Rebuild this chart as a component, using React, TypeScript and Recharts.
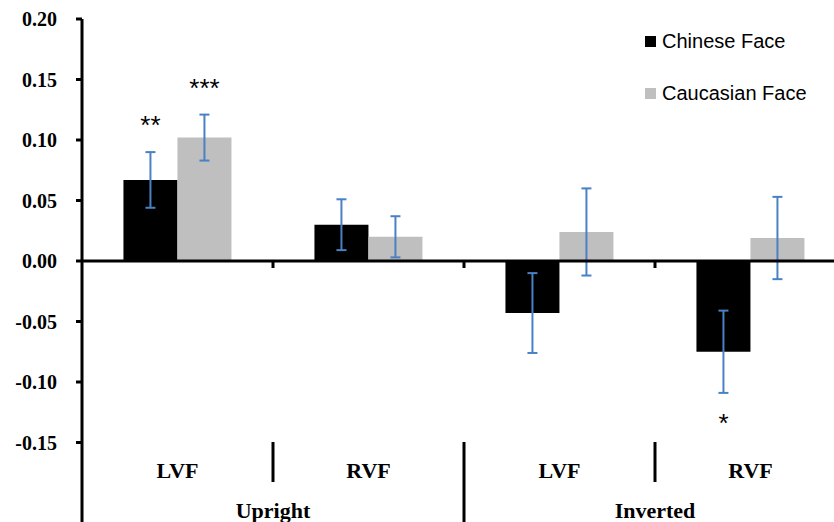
import React from "react";
import {
  BarChart,
  Bar,
  XAxis,
  YAxis,
  ErrorBar,
  ReferenceLine,
  LabelList,
} from "recharts";

// データ
const fields = ["LVF", "RVF", "LVF", "RVF"];
const orientations = ["Upright", "Inverted"];
const chinese = [0.067, 0.03, -0.043, -0.075];
const chineseErr = [0.023, 0.021, 0.033, 0.034];
const caucasian = [0.102, 0.02, 0.024, 0.019];
const caucasianErr = [0.019, 0.017, 0.036, 0.034];
const chineseStars = ["**", "", "", "*"];
const caucasianStars = ["***", "", "", ""];
const yTicks = [-0.15, -0.1, -0.05, 0, 0.05, 0.1, 0.15, 0.2];

const COLORS = {
  chinese: "#000000",
  caucasian: "#bfbfbf",
  error: "#4a80c4",
};

// レイアウト
const CHART_W = 870;
const CHART_H = 523;
const MARGIN = { top: 19, right: 24, left: 10, bottom: 0 };
const Y_AXIS_W = 72;
const Y_MIN = -0.2157;
const Y_MAX = 0.2;
const PLOT_H = CHART_H - MARGIN.top - MARGIN.bottom - 1;
const PLOT_W = CHART_W - MARGIN.left - MARGIN.right - Y_AXIS_W;
const BAND = PLOT_W / fields.length;
const ZERO_Y = MARGIN.top + (Y_MAX / (Y_MAX - Y_MIN)) * PLOT_H;

const SERIF = '"Liberation Serif", "Times New Roman", serif';
const SANS = '"Liberation Sans", Arial, sans-serif';

const data = fields.map((f, i) => ({
  key: `${orientations[Math.floor(i / 2)]} ${f}`,
  chinese: chinese[i],
  chineseErr: chineseErr[i],
  caucasian: caucasian[i],
  caucasianErr: caucasianErr[i],
}));

const YTick = ({ x, y, payload }: any) => (
  <text
    x={x}
    y={y}
    dy={7}
    textAnchor="end"
    fontFamily={SERIF}
    fontWeight="bold"
    fontSize={20}
    fill="#000"
  >
    {Number(payload.value).toFixed(2)}
  </text>
);

const FieldTick = ({ x, index }: any) => {
  const right = x + BAND / 2;
  const last = index === fields.length - 1;
  return (
    <g>
      <text
        x={x}
        y={478}
        textAnchor="middle"
        fontFamily={SERIF}
        fontWeight="bold"
        fontSize={22}
        fill="#000"
      >
        {fields[index]}
      </text>
      {!last && (
        <line
          x1={right}
          x2={right}
          y1={442}
          y2={index % 2 === 1 ? 524 : 482}
          stroke="#000"
          strokeWidth={3}
        />
      )}
      {!last && (
        <line x1={right} x2={right} y1={ZERO_Y} y2={ZERO_Y + 7} stroke="#000" strokeWidth={3} />
      )}
      {index % 2 === 0 && (
        <text
          x={right}
          y={518}
          textAnchor="middle"
          fontFamily={SERIF}
          fontWeight="bold"
          fontSize={22}
          fill="#000"
        >
          {orientations[index / 2]}
        </text>
      )}
    </g>
  );
};

// 有意差の星印
const starLabel = (values: number[], errs: number[], stars: string[]) => (props: any) => {
  const { x, y, width, height, index } = props;
  const s = stars[index];
  if (!s) return null;
  const v = values[index];
  const h = Number(height);
  const ppu = Math.abs(h) / Math.abs(v);
  const end = v > 0 ? Math.min(y, y + h) : Math.max(y, y + h);
  const errEnd = v > 0 ? end - errs[index] * ppu : end + errs[index] * ppu;
  return (
    <text
      x={x + width / 2}
      y={v > 0 ? errEnd - 18 : errEnd + 39}
      textAnchor="middle"
      fontFamily={SANS}
      fontSize={26}
      fill="#000"
    >
      {s}
    </text>
  );
};

const legendItems = [
  { name: "Chinese Face", color: COLORS.chinese },
  { name: "Caucasian Face", color: COLORS.caucasian },
];

export default function App() {
  return (
    <div
      style={{
        position: "fixed",
        left: 0,
        top: 0,
        width: 834,
        height: 522,
        overflow: "hidden",
        background: "#fff",
      }}
    >
      <BarChart
        width={CHART_W}
        height={CHART_H}
        data={data}
        margin={MARGIN}
        barCategoryGap="21.7%"
        barGap={0}
      >
        <XAxis
          dataKey="key"
          height={1}
          axisLine={false}
          tickLine={false}
          interval={0}
          tick={(p: any) => <FieldTick {...p} />}
        />
        <YAxis
          width={Y_AXIS_W}
          domain={[Y_MIN, Y_MAX]}
          allowDataOverflow
          ticks={yTicks}
          interval={0}
          axisLine={{ stroke: "#000", strokeWidth: 3 }}
          tickLine={{ stroke: "#000", strokeWidth: 3 }}
          tickSize={6}
          tickMargin={19}
          tick={(p: any) => <YTick {...p} />}
        />
        <Bar dataKey="chinese" fill={COLORS.chinese} isAnimationActive={false}>
          <ErrorBar dataKey="chineseErr" stroke={COLORS.error} strokeWidth={2} width={5} />
          <LabelList dataKey="chinese" content={starLabel(chinese, chineseErr, chineseStars)} />
        </Bar>
        <Bar dataKey="caucasian" fill={COLORS.caucasian} isAnimationActive={false}>
          <ErrorBar dataKey="caucasianErr" stroke={COLORS.error} strokeWidth={2} width={5} />
          <LabelList dataKey="caucasian" content={starLabel(caucasian, caucasianErr, caucasianStars)} />
        </Bar>
        <ReferenceLine y={0} stroke="#000" strokeWidth={3} />
      </BarChart>
      <div style={{ position: "absolute", left: 645, top: 28, fontFamily: SANS, fontSize: 20 }}>
        {legendItems.map((it) => (
          <div
            key={it.name}
            style={{ display: "flex", alignItems: "center", height: 26, lineHeight: "26px", marginBottom: 26 }}
          >
            <span style={{ width: 11, height: 11, background: it.color, marginRight: 6 }} />
            <span style={{ color: "#000" }}>{it.name}</span>
          </div>
        ))}
      </div>
    </div>
  );
}
